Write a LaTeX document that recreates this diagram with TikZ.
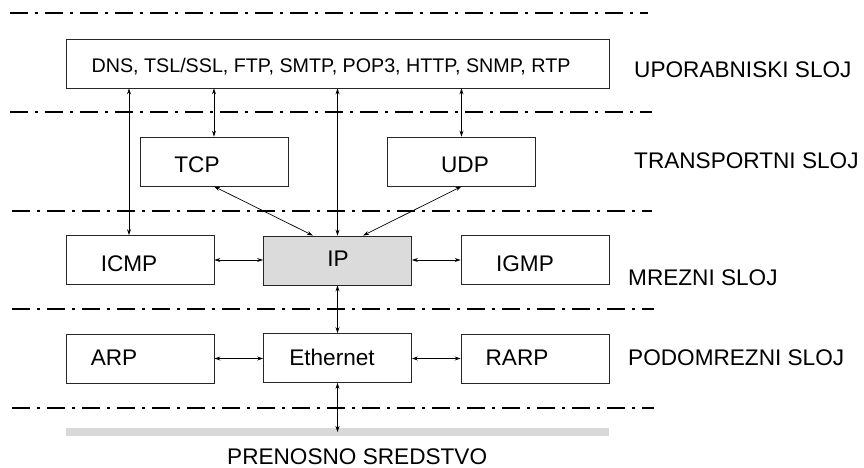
\documentclass[tikz,border=0pt]{standalone}
\usepackage{fontspec}
\setmainfont{Liberation Sans}
\usetikzlibrary{arrows.meta,calc}
\begin{document}
\begin{tikzpicture}[x=1pt,y=-1pt,
  layer/.style={line width=1.3pt, dash pattern=on 18pt off 7pt on 3pt off 7pt},
  box/.style={draw=black!85, line width=0.9pt, inner sep=0pt,
              minimum width=148pt, minimum height=49pt},
  txt/.style={font=\fontsize{22.6}{27}\selectfont, inner sep=0pt, anchor=base},
  apptxt/.style={font=\fontsize{19.7}{24}\selectfont, inner sep=0pt, anchor=base},
  lbl/.style={font=\fontsize{22.6}{27}\selectfont, inner sep=0pt, anchor=base west},
  arr/.style={line width=0.7pt,
              {Stealth[length=6pt,width=4pt]}-{Stealth[length=6pt,width=4pt]}}]
\useasboundingbox (0,0) rectangle (864,468);

% layer separators
\draw[layer] (10,13)  -- (648,13);
\draw[layer] (10,112) -- (652,112);
\draw[layer] (12,211) -- (652,211);
\draw[layer] (12,309) -- (654,309);
\draw[layer] (12,408) -- (654,408);

% protocol boxes
\node[box, minimum width=543pt] (app) at (337.5,63.5) {};
\node[box] (tcp)  at (214,161.5) {};
\node[box] (udp)  at (461.5,161.5) {};
\node[box] (icmp) at (140,260) {};
\node[box, fill=black!14] (ip) at (337.5,260.5) {};
\node[box] (igmp) at (535,260) {};
\node[box] (arp)  at (140,358.5) {};
\node[box] (eth)  at (337.5,358) {};
\node[box] (rarp) at (535,358.5) {};

% transmission medium
\node[fill=black!15, inner sep=0pt, minimum width=543pt, minimum height=8pt] (bar) at (337.5,432) {};

% box texts
\node[apptxt] (appT) at (331,72.5) {DNS, TSL/SSL, FTP, SMTP, POP3, HTTP, SNMP, RTP};
\node[txt] (tcpT)  at (197,172.6) {TCP};
\node[txt] (udpT)  at (465,172.6) {UDP};
\node[txt] (icmpT) at (129,271) {ICMP};
\node[txt] (ipT)   at (338,266) {IP};
\node[txt] (igmpT) at (525,271) {IGMP};
\node[txt] (arpT)  at (114,365) {ARP};
\node[txt] (ethT)  at (332,365) {Ethernet};
\node[txt] (rarpT) at (517,365) {RARP};

% layer names
\node[lbl] (l1) at (634,78)  {UPORABNISKI SLOJ};
\node[lbl] (l2) at (634,168) {TRANSPORTNI SLOJ};
\node[lbl] (l3) at (628,285) {MREZNI SLOJ};
\node[lbl] (l4) at (628,365) {PODOMREZNI SLOJ};
\node[lbl] (l5) at (227,464.5) {PRENOSNO SREDSTVO};

% connections
\draw[arr] (app.south -| icmpT) -- (icmp.north -| icmpT);
\draw[arr] (app.south -| tcp.north) -- (tcp.north);
\draw[arr] (app.south -| ip.north) -- (ip.north);
\draw[arr] (app.south -| udp.north) -- (udp.north);
\draw[arr] (tcp.south) -- ($(ip.north)+(-24.5,0)$);
\draw[arr] (udp.south) -- ($(ip.north)+(25.5,0)$);
\draw[arr] (icmp.east) -- (icmp.east -| ip.west);
\draw[arr] (ip.east |- igmp.west) -- (igmp.west);
\draw[arr] (ip.south) -- (eth.north);
\draw[arr] (arp.east) -- (arp.east -| eth.west);
\draw[arr] (eth.east |- rarp.west) -- (rarp.west);
\draw[arr] (eth.south) -- (bar.center);
\end{tikzpicture}
\end{document}
